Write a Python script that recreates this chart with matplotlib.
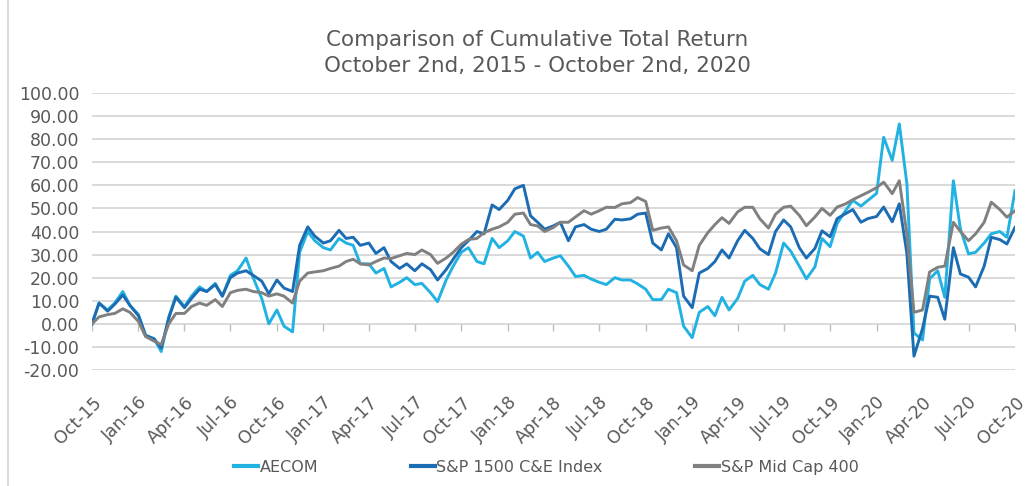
import pandas as pd
import matplotlib.pyplot as plt
import matplotlib.dates as mdates
from matplotlib.lines import Line2D

plt.rcParams["font.family"] = ["DejaVu Sans"]

# semi-monthly samples, Oct-15 .. Oct-20
dates = pd.date_range("2015-10-01", "2020-10-01", freq="SMS")

aecom = [0, 9, 6, 9, 14, 8, 4, -5, -6.5, -12,
         3, 12, 7.5, 12, 16, 14, 17.5, 12, 21, 23,
         28.5, 20, 11, 0, 6, -1, -3.5, 31, 40, 36,
         33, 32, 37, 35, 34, 26, 26, 22, 24, 16,
         18, 20, 17, 17.5, 13.5, 9.6, 19, 25, 31, 33,
         27, 26, 37, 33, 36, 40, 38, 28.5, 31, 27,
         28.5, 29.5, 25, 20.5, 21, 19.4, 18, 17, 20, 19,
         19, 17.3, 15, 10.5, 10.5, 15, 13.5, -1, -6, 5,
         7.5, 3.5, 11.5, 6, 11, 18.5, 21, 17, 15, 22,
         35, 31.5, 25, 19.5, 24.7, 37, 33.4, 43.5, 49.2, 53.5,
         51, 53.5, 56.5, 80.8, 70.8, 86.6, 60.7, -4, -7, 19.5,
         23, 11.5, 62, 41, 30.3, 31, 35, 39, 40, 37.5,
         57.7]

sp1500 = [0, 9, 5.5, 8.5, 12.5, 8, 3.5, -5, -6.5, -10.5,
          2.5, 11.5, 7, 11, 15, 14, 17, 12, 20, 22,
          23, 21, 18.5, 13, 19, 15.5, 14, 34, 42, 38,
          35, 36, 40.5, 37, 37.5, 34, 35, 30.5, 33, 27,
          24, 26, 23, 26, 23.5, 19, 23.5, 28, 33, 36,
          40, 39, 51.5, 49.5, 53.5, 58.5, 60, 46.8, 44, 41,
          42.4, 44, 36, 42, 43, 41, 40, 41, 45.3, 45,
          45.5, 47.5, 48, 35, 32, 39, 33, 12, 7, 22,
          24, 27, 32, 28.5, 36, 40.5, 37, 32.5, 30, 40,
          45, 42, 33, 28.5, 32.7, 40.3, 37.7, 45.6, 47.8, 49.5,
          44, 45.6, 46.5, 50.6, 44.2, 52, 30.5, -14, -2, 12,
          11.5, 2, 33, 21.6, 20.2, 16, 25, 37.5, 36.5, 34.6,
          41.8]

midcap = [0, 3, 4, 4.5, 6.5, 5, 1, -5.5, -7.5, -9,
          0, 4.5, 4.5, 7.5, 9, 8, 10.5, 7.5, 13.5, 14.5,
          15, 14, 13.5, 12, 13, 12, 9, 18.5, 22, 22.5,
          23, 24, 25, 27, 28, 26, 25.5, 27, 28.5, 28.3,
          29.5, 30.5, 30, 32, 30, 26.2, 28.5, 31, 34.5, 36.5,
          37, 39.5, 41, 42, 44, 47.5, 48, 43, 42.4, 40,
          41.7, 44, 44, 46.3, 49, 47.5, 49, 50.5, 50.4, 52,
          52.5, 54.7, 53, 40.5, 41.5, 42, 36, 25.5, 23, 34,
          39.5, 43, 46, 43.5, 48.5, 50.5, 50.5, 45.5, 41.5, 47.5,
          50.5, 51, 47, 42.5, 46.3, 50, 47, 50.6, 52, 53.8,
          55.5, 57, 59, 61.4, 56.4, 62, 39, 5, 6, 22.5,
          24.5, 25, 44, 40, 36, 39, 44, 52.7, 49.5, 46.2,
          49]

series_names = ["AECOM", "S&P 1500 C&E Index", "S&P Mid Cap 400"]
series_colors = ["#22b2e2", "#1c6cb4", "#808080"]
title_lines = ["Comparison of Cumulative Total Return",
               "October 2nd, 2015 - October 2nd, 2020"]

text_color = "#595959"
grid_color = "#d9d9d9"

fig = plt.figure(figsize=(10.27, 4.86), dpi=100)
ax = fig.add_axes([92 / 1027, 1 - 370 / 486, 923 / 1027, 277 / 486])

for vals, name, col in zip([aecom, sp1500, midcap], series_names, series_colors):
    ax.plot(dates, vals, color=col, lw=2.1, label=name, solid_joinstyle="round")

ax.set_ylim(-20, 100)
ax.set_yticks(range(-20, 101, 10))
ax.yaxis.set_major_formatter(lambda v, p: f"{v:.2f}")
ax.set_xlim(pd.Timestamp("2015-10-01"), pd.Timestamp("2020-10-01"))
ax.xaxis.set_major_locator(mdates.MonthLocator(bymonth=[1, 4, 7, 10]))
ax.xaxis.set_major_formatter(mdates.DateFormatter("%b-%y"))

ax.grid(axis="y", color=grid_color, lw=1.4, zorder=0)
ax.set_axisbelow(True)
for s in ax.spines.values():
    s.set_visible(False)
ax.tick_params(axis="both", length=0, colors=text_color)
ax.tick_params(axis="y", pad=9, labelsize=12.5)
ax.tick_params(axis="x", pad=17, labelsize=12.5)
for lbl in ax.get_xticklabels():
    lbl.set_rotation(45)
    lbl.set_ha("right")
    lbl.set_rotation_mode("anchor")

# small tick marks where the category axis crosses zero
ticks = ax.get_xticks()
ax.plot(ticks, [0] * len(ticks), ls="none", marker=3, ms=5, mew=1,
        color="#bfbfbf", zorder=1)

fig.text(0.523, 1 - 40 / 486, title_lines[0], ha="center", va="center",
         fontsize=15.5, color=text_color)
fig.text(0.523, 1 - 66 / 486, title_lines[1], ha="center", va="center",
         fontsize=15.5, color=text_color)

handles = [Line2D([], [], color=c, lw=3) for c in series_colors]
fig.legend(handles, series_names, loc="center", bbox_to_anchor=(0.532, 1 - 467 / 486),
           ncol=3, frameon=False, handlelength=1.5, handletextpad=0.1,
           columnspacing=5.8, fontsize=11.5, labelcolor=text_color)

fig.add_artist(Line2D([8 / 1027, 8 / 1027], [0, 1], transform=fig.transFigure,
                      color=grid_color, lw=1.5))

plt.savefig("out.png", dpi=100)
